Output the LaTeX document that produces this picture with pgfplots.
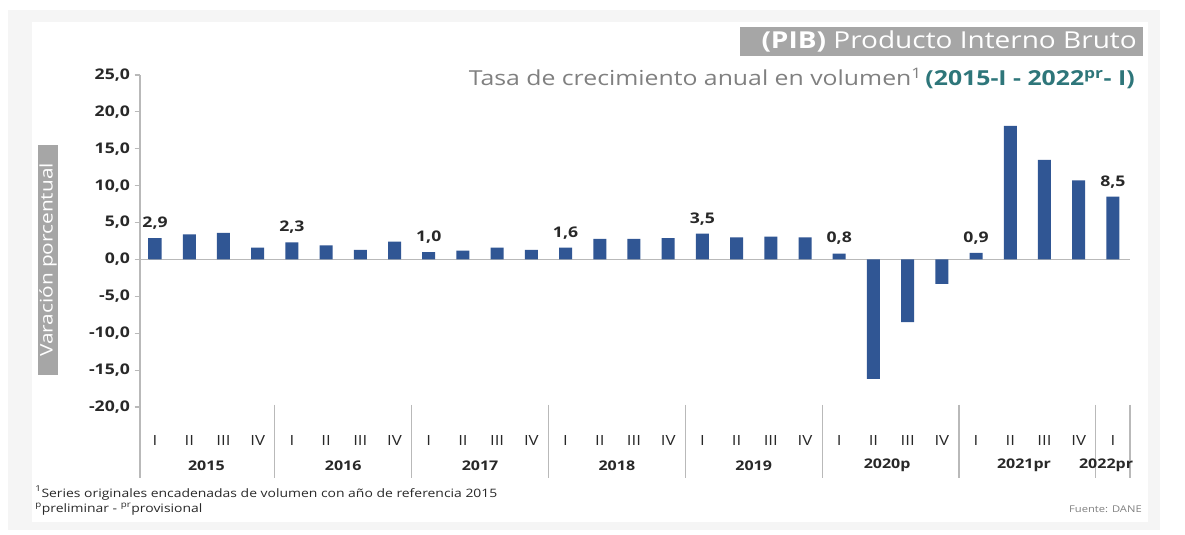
\documentclass[border=0pt]{standalone}
\usepackage{pgfplots}
\pgfplotsset{compat=1.18}
\usepackage{pgfplotstable}
\usepackage{fontspec}
\setmainfont{Open Sans}[FakeStretch=1.2]
\definecolor{bardark}{RGB}{48,86,148}
\definecolor{barlight}{RGB}{84,128,190}
\definecolor{bggray}{RGB}{245,245,245}
\definecolor{boxgray}{RGB}{166,166,166}
\definecolor{tealc}{RGB}{46,118,122}
\definecolor{txtgray}{RGB}{128,128,128}
\definecolor{axgray}{RGB}{185,185,185}
\definecolor{dark}{RGB}{40,40,40}

\pgfplotstableread{
x y lab
0 2.9 {2,9}
1 3.4 {}
2 3.6 {}
3 1.6 {}
4 2.3 {2,3}
5 1.9 {}
6 1.3 {}
7 2.4 {}
8 1.0 {1,0}
9 1.2 {}
10 1.6 {}
11 1.3 {}
12 1.6 {1,6}
13 2.8 {}
14 2.8 {}
15 2.9 {}
16 3.5 {3,5}
17 3.0 {}
18 3.1 {}
19 3.0 {}
20 0.8 {0,8}
21 -16.2 {}
22 -8.5 {}
23 -3.3 {}
24 0.9 {0,9}
25 18.1 {}
26 13.5 {}
27 10.7 {}
28 8.5 {8,5}
}\pib

\begin{document}
\begin{tikzpicture}[x=0.75pt,y=0.75pt]
\useasboundingbox (0,0) rectangle (1185,535);
\fill[bggray] (8,5) rectangle (1160,525);
\fill[white] (32,13) rectangle (1148,513);

\begin{axis}[
  at={(105pt,96pt)}, anchor=south west,
  scale only axis, width=742.5pt, height=249pt,
  xmin=-0.44, xmax=28.5, ymin=-20, ymax=25,
  axis x line*=bottom, axis y line*=left,
  x axis line style={draw=none},
  y axis line style={axgray, line width=0.8pt},
  xtick=data,
  xticklabels={I,II,III,IV,I,II,III,IV,I,II,III,IV,I,II,III,IV,I,II,III,IV,I,II,III,IV,I,II,III,IV,I},
  xtick style={draw=none},
  xticklabel style={font=\fontsize{10.5}{12}\selectfont, text=dark, yshift=-14pt},
  ytick={-20,-15,...,25},
  ytick style={axgray, line width=0.8pt},
  tick align=outside, major tick length=4pt,
  yticklabel style={/pgf/number format/.cd, fixed, fixed zerofill, precision=1, use comma, /tikz/.cd, font=\fontsize{11}{13}\selectfont\bfseries, text=dark},
  /pgf/number format/assume math mode=true,
  ybar, bar width=9.75pt,
  clip=false,
  nodes near coords,
  point meta=explicit symbolic,
  every node near coord/.append style={font=\fontsize{11}{13}\selectfont\bfseries, text=dark, yshift=3pt},
]
\draw[axgray, line width=0.8pt] (axis cs:-0.44,0) -- (axis cs:28.5,0);
\addplot[draw=none, left color=bardark, middle color=barlight, right color=bardark, bar shift=0pt] table[x=x, y=y, meta=lab] {\pib};
\draw[axgray, line width=0.8pt] (axis cs:-0.44,-20) -- (axis cs:-0.44,-29.6);
\pgfplotsinvokeforeach{3.5,7.5,11.5,15.5,19.5,23.5,27.5,28.5}{
  \draw[axgray, line width=0.8pt] (axis cs:#1,-19.7) -- (axis cs:#1,-29.6);
}
\node[font=\fontsize{10}{12}\selectfont\bfseries, text=dark] at (axis cs:1.5,-27.9) {2015};
\node[font=\fontsize{10}{12}\selectfont\bfseries, text=dark] at (axis cs:5.5,-27.9) {2016};
\node[font=\fontsize{10}{12}\selectfont\bfseries, text=dark] at (axis cs:9.5,-27.9) {2017};
\node[font=\fontsize{10}{12}\selectfont\bfseries, text=dark] at (axis cs:13.5,-27.9) {2018};
\node[font=\fontsize{10}{12}\selectfont\bfseries, text=dark] at (axis cs:17.5,-27.9) {2019};
\node[font=\fontsize{10}{12}\selectfont\bfseries, text=dark] at (axis cs:21.4,-27.9) {2020p};
\node[font=\fontsize{10}{12}\selectfont\bfseries, text=dark] at (axis cs:25.4,-27.9) {2021pr};
\node[font=\fontsize{10}{12}\selectfont\bfseries, text=dark] at (axis cs:27.8,-27.9) {2022pr};
\end{axis}

% title
\fill[boxgray] (740,479) rectangle (1143,508);
\node[anchor=east, text=white, font=\fontsize{17.5}{20}\selectfont, inner sep=0pt] at (1137,493.5) {\textbf{(PIB)} Producto Interno Bruto};
\node[anchor=east, font=\fontsize{15.5}{18}\selectfont, inner sep=0pt] at (1135,457) {\textcolor{txtgray}{Tasa de crecimiento anual en volumen}\textsuperscript{\textcolor{txtgray}{1}}\,\textcolor{tealc}{\textbf{(2015-I - 2022\textsuperscript{pr}- I)}}};
% y label
\node[fill=boxgray, text=white, rotate=90, minimum width=172.5pt, minimum height=15pt, inner sep=0pt, font=\fontsize{13}{15}\selectfont] at (48,275) {Varación porcentual};
% footnotes
\node[anchor=west, inner sep=0pt, text=dark, font=\fontsize{8.7}{10}\selectfont] at (35,42) {\textsuperscript{1}Series originales encadenadas de volumen con año de referencia 2015};
\node[anchor=west, inner sep=0pt, text=dark, font=\fontsize{8.7}{10}\selectfont] at (35,26) {\textsuperscript{p}preliminar - \textsuperscript{pr}provisional};
\node[anchor=east, inner sep=0pt, text=txtgray, font=\fontsize{7}{9}\selectfont] at (1142,26) {Fuente: DANE};
\end{tikzpicture}
\end{document}
